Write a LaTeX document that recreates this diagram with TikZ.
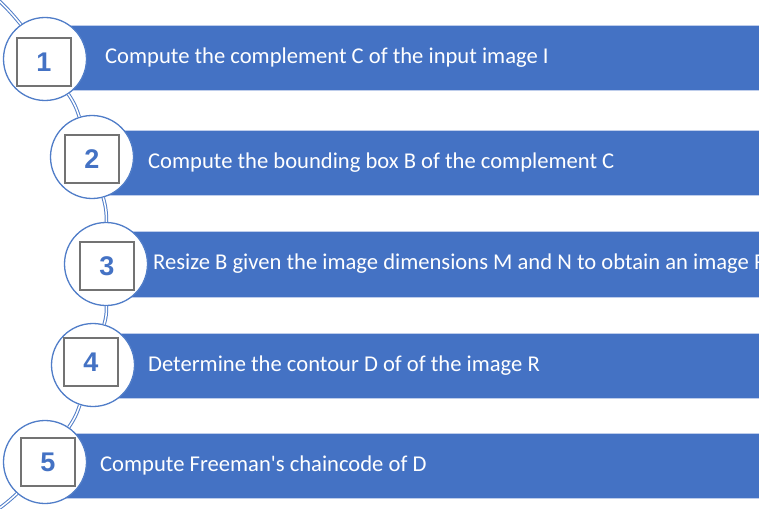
\documentclass[tikz,border=0pt]{standalone}
\usepackage{fontspec}
\setmainfont{Carlito}
\newfontfamily\numfont{Liberation Sans}
\definecolor{barblue}{RGB}{68,114,196}
\definecolor{ringblue}{RGB}{80,125,200}
\definecolor{boxgray}{RGB}{115,115,115}
\definecolor{edgeblue}{RGB}{190,205,235}
\tikzset{
  bar/.style={fill=barblue, draw=edgeblue, line width=0.8pt},
  ring/.style={circle, draw=ringblue, line width=1.3pt, fill=white, minimum size=83pt, inner sep=0pt},
  numbox/.style={draw=boxgray, line width=1.3pt, fill=white, minimum width=54pt, minimum height=48pt, inner sep=0pt, text=barblue, font=\numfont\fontsize{27}{27}\selectfont\bfseries},
  bartext/.style={anchor=west, text=white, font=\fontsize{22.6}{24}\selectfont, inner sep=0pt},
  link/.style={draw=ringblue, line width=1pt, double=white, double distance=1.5pt}
}
\begin{document}
\begin{tikzpicture}[x=1pt,y=1pt]
\useasboundingbox (0,0) rectangle (759,-508);
\clip (0,0) rectangle (759,-508);
\fill[white] (0,0) rectangle (759,-508);
% bars
\path[bar] (45,-25) rectangle (780,-90);
\path[bar] (92,-130) rectangle (780,-195);
\path[bar] (106,-231) rectangle (780,-297);
\path[bar] (93,-333) rectangle (780,-398);
\path[bar] (45,-433) rectangle (780,-498);
% texts
\node[bartext] (t1) at (105,-57.5) {Compute the complement C of the input image I};
\node[bartext] (t2) at (148,-162.5) {Compute the bounding box B of the complement C};
\node[bartext] (t3) at (153,-264) {Resize B given the image dimensions M and N to obtain an image R};
\node[bartext] (t4) at (148,-365.5) {Determine the contour D of of the image R};
\node[bartext] (t5) at (100,-465.5) {Compute Freeman\textquotesingle s chaincode of D};
% rings
\node[ring] (c1) at (45,-59) {};
\node[ring] (c2) at (92,-157) {};
\node[ring] (c3) at (106,-264) {};
\node[ring] (c4) at (93,-365) {};
\node[ring] (c5) at (45,-462) {};
% connectors
\coordinate (top) at (-6,4);
\coordinate (bot) at (-6,-512);
\draw[link] (top) to[bend left=4] (c1);
\draw[link] (c1) to[bend left=8] (c2);
\draw[link] (c2) to[bend left=8] (c3);
\draw[link] (c3) to[bend left=8] (c4);
\draw[link] (c4) to[bend left=8] (c5);
\draw[link] (c5) to[bend left=4] (bot);
% number boxes
\node[numbox] (n1) at (44,-62) {1};
\node[numbox] (n2) at (92,-159) {2};
\node[numbox] (n3) at (107,-266) {3};
\node[numbox] (n4) at (91,-362) {4};
\node[numbox] (n5) at (48,-462) {5};
\end{tikzpicture}
\end{document}
